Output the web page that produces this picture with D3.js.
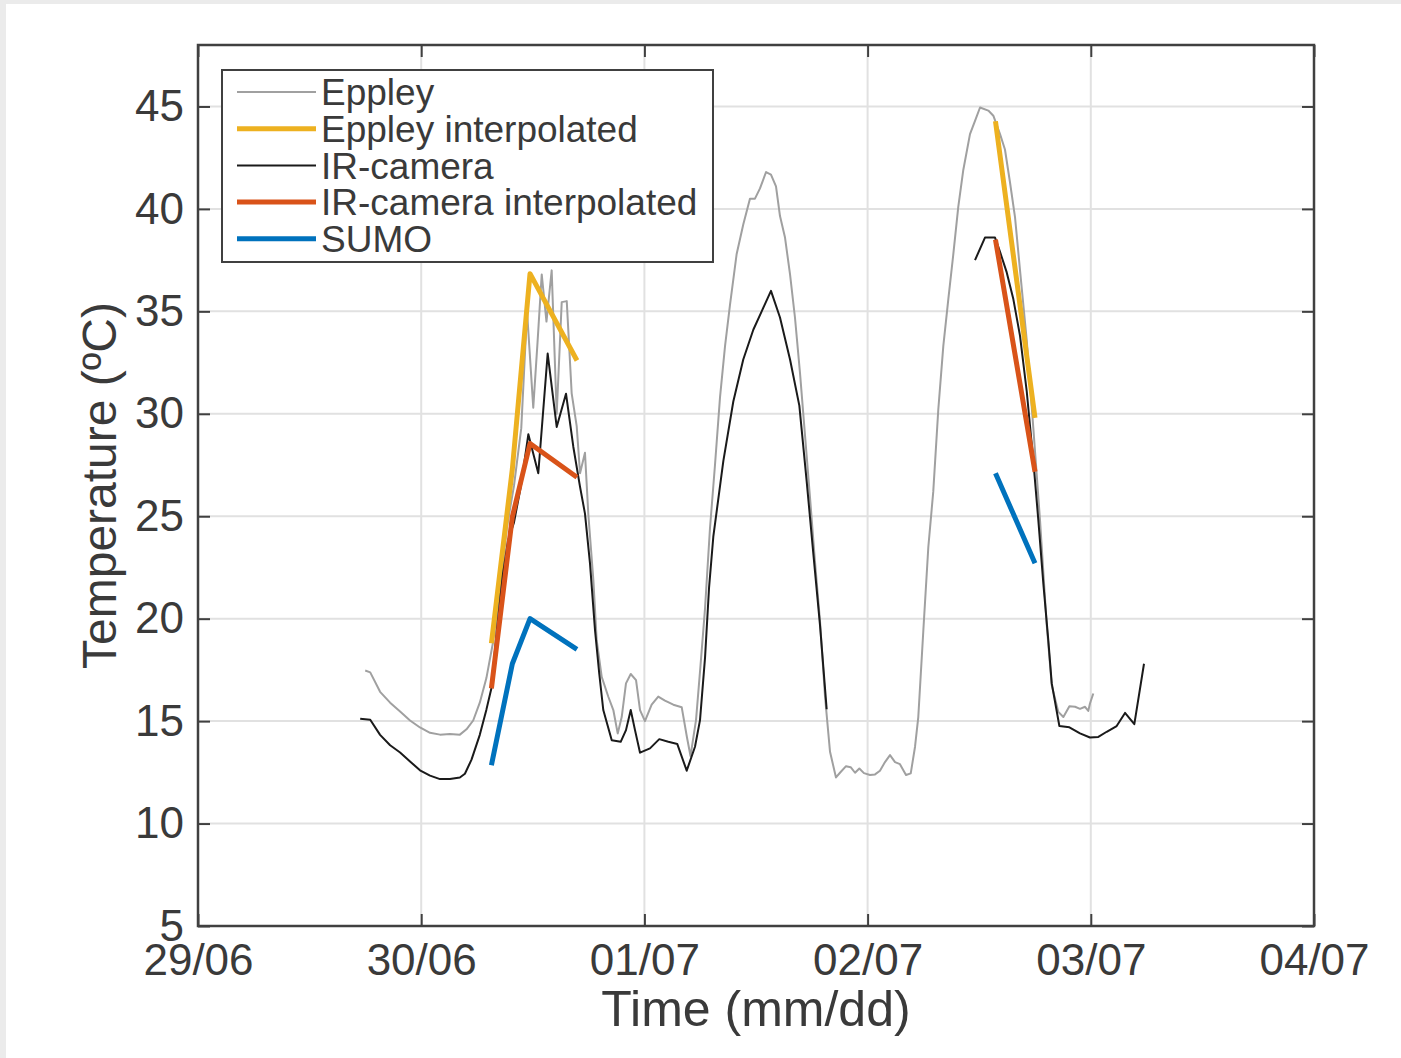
<!DOCTYPE html>
<html>
<head>
<meta charset="utf-8">
<script src="https://cdn.jsdelivr.net/npm/d3@7"></script>
<style>
  html, body { margin: 0; padding: 0; background: #ebebeb; }
  svg { display: block; }
  text { font-family: "Liberation Sans", Arial, sans-serif; fill: #3a3a3a; }
</style>
</head>
<body>
<script>
// hours counted from 29/06 00:00
var eppleyHours = [17.98, 18.52, 19.58, 20.66, 21.73, 22.8, 23.87, 24.95, 26.02, 27.09, 28.16, 28.87, 29.59, 30.3, 31.01, 31.73,
  32.47, 33.23, 33.98, 34.76, 35.38, 36.05, 36.51, 36.96, 37.47, 38.03, 38.57, 39.11, 39.65, 40.18, 40.72, 41.08, 41.61, 41.97,
  42.51, 42.87, 43.41, 44.12, 44.66, 45.13, 45.56, 46.02, 46.53, 47.1, 47.53, 48.06, 48.78, 49.49, 50.21, 51.11, 52.01, 52.58,
  52.96, 53.55, 54.03, 54.52, 55.05, 55.59, 56.13, 56.67, 57.2, 57.92, 58.63, 59.35, 59.89, 60.43, 61.08, 61.61, 62.15, 62.58,
  63.12, 63.66, 64.19, 64.73, 65.27, 65.81, 66.34, 66.88, 67.42, 67.96, 68.6, 69.03, 69.68, 70.18, 70.65, 71.11, 71.61, 72.26,
  72.8, 73.33, 73.87, 74.41, 74.95, 75.48, 76.13, 76.64, 77.1, 77.45, 77.99, 78.53, 79.06, 79.6, 80.14, 80.68, 81.22, 81.75,
  82.29, 83.01, 83.55, 84.09, 84.98, 85.52, 86.24, 86.77, 87.31, 87.85, 88.39, 89.11, 89.82, 90.54, 91.26, 91.8, 92.51, 93.05,
  93.7, 94.31, 94.84, 95.38, 95.73, 95.91, 96.27];
var eppleyTemp = [17.47, 17.38, 16.43, 15.9, 15.47, 15.03, 14.69, 14.43, 14.34, 14.37, 14.34, 14.6, 15.03, 15.9, 17.1, 18.86,
  21.5, 24.5, 26.5, 29.3, 35.0, 30.3, 33.5, 36.8, 34.5, 37.0, 30.0, 35.45, 35.5, 31.0, 29.4, 27.1, 28.1, 25.1,
  21.9, 18.95, 17.16, 16.19, 15.54, 14.4, 15.2, 16.84, 17.3, 17.0, 15.54, 15.0, 15.8, 16.2, 16.0, 15.8, 15.68, 14.2,
  13.3, 15.05, 17.7, 20.5, 24.4, 27.5, 30.8, 33.3, 35.3, 37.8, 39.24, 40.5, 40.5, 41.0, 41.8, 41.67, 41.1, 39.65,
  38.6, 36.8, 34.7, 32.0, 28.95, 25.9, 22.8, 19.9, 16.2, 13.5, 12.25, 12.48, 12.8, 12.75, 12.48, 12.69, 12.46, 12.37,
  12.4, 12.58, 13.0, 13.34, 13.0, 12.9, 12.37, 12.45, 13.75, 15.2, 19.4, 23.5, 26.2, 30.2, 33.3, 35.6, 37.8, 40.1,
  41.9, 43.65, 44.3, 44.95, 44.8, 44.55, 43.65, 42.9, 41.3, 39.6, 37.0, 33.6, 29.3, 24.8, 19.7, 16.75, 15.45, 15.2,
  15.73, 15.7, 15.6, 15.7, 15.5, 15.86, 16.35];

// IR-camera, null marks the data gap
var irHours = [17.44, 18.52, 19.58, 20.66, 21.73, 22.8, 23.87, 24.95, 26.02, 27.09, 28.16, 28.7, 29.41, 30.3, 31.01, 31.55,
  32.15, 32.8, 33.33, 33.98, 34.73, 35.52, 36.59, 37.6, 38.57, 39.57, 40.36, 41.08, 41.61, 42.15, 42.69, 43.15, 43.58,
  44.49, 45.45, 46.02, 46.53, 46.99, 47.53, 48.6, 49.6, 50.57, 51.54, 52.55, 53.44, 53.98, 54.52, 54.95, 55.41, 56.49,
  57.56, 58.63, 59.71, 60.61, 61.61, 62.58, 63.66, 64.66, 65.45, 66.16, 66.88, 67.6, 75.0,
  83.55, 84.62, 85.7, 86.24, 86.96, 87.67, 88.39, 89.11, 89.82, 90.36, 90.9, 91.43, 91.8, 92.62, 93.7, 94.84, 95.91,
  96.81, 97.71, 98.78, 99.68, 100.68, 101.72];
var irTemp = [15.12, 15.07, 14.33, 13.82, 13.47, 13.03, 12.6, 12.34, 12.17, 12.17, 12.25, 12.43, 13.12, 14.33, 15.56, 16.6,
  19.5, 22.2, 23.8, 24.7, 26.5, 29.0, 27.1, 32.94, 29.36, 30.98, 28.38, 26.43, 25.13, 22.7, 19.44, 17.3, 15.54,
  14.07, 13.99, 14.56, 15.54, 14.56, 13.46, 13.67, 14.12, 13.99, 13.88, 12.58, 13.75, 15.05, 18.1, 21.5, 24.0, 27.7,
  30.6, 32.65, 34.1, 35.0, 36.0, 34.7, 32.65, 30.4, 26.7, 23.2, 19.7, 15.58, null,
  37.5, 38.6, 38.6, 37.9, 36.9, 35.6, 33.8, 31.1, 27.7, 24.8, 21.7, 18.95, 16.84, 14.76, 14.7, 14.4, 14.2,
  14.23, 14.48, 14.76, 15.4, 14.85, 17.8];

// interpolated series and SUMO share the flight times
var flightHours = [31.55, 33.8, 35.7, 40.75, null, 85.75, 90.0];
var eppleyInterp = [18.8, 27.3, 36.84, 32.6, null, 44.28, 29.8];
var irInterp = [16.6, 24.97, 28.55, 26.9, null, 38.5, 27.17];
var sumoTemp = [12.85, 17.8, 20.0, 18.5, null, 27.1, 22.7];

var yTicks = [5, 10, 15, 20, 25, 30, 35, 40, 45];
var legendNames = ["Eppley", "Eppley interpolated", "IR-camera", "IR-camera interpolated", "SUMO"];
var colors = ["#a0a0a0", "#edb120", "#1a1a1a", "#d95319", "#0072bd"];
var widths = [2, 5, 2, 5, 5];

var W = 1401, H = 1058;
var plotL = 198, plotR = 1314, plotT = 45, plotB = 926;
var base = new Date(2016, 5, 29);

function toDate(h) { return new Date(base.getTime() + h * 3600e3); }

var svg = d3.select("body").append("svg").attr("width", W).attr("height", H);
svg.append("rect").attr("x", 6).attr("y", 4).attr("width", W - 6).attr("height", H - 4).attr("fill", "#fff");

var x = d3.scaleTime().domain([base, d3.timeDay.offset(base, 5)]).range([plotL, plotR]);
var y = d3.scaleLinear().domain([5, 48]).range([plotB, plotT]);

// grid
var grid = svg.append("g");
grid.selectAll(".gx").data(x.ticks(d3.timeDay.every(1))).enter().append("line")
  .attr("x1", d => x(d)).attr("x2", d => x(d)).attr("y1", plotT).attr("y2", plotB)
  .attr("stroke", "#e1e1e1").attr("stroke-width", 2);
grid.selectAll(".gy").data(yTicks).enter().append("line")
  .attr("x1", plotL).attr("x2", plotR).attr("y1", d => y(d)).attr("y2", d => y(d))
  .attr("stroke", "#e1e1e1").attr("stroke-width", 2);

svg.append("clipPath").attr("id", "clip").append("rect")
  .attr("x", plotL).attr("y", plotT).attr("width", plotR - plotL).attr("height", plotB - plotT);

var line = d3.line()
  .defined(d => d[1] != null)
  .x(d => x(toDate(d[0])))
  .y(d => y(d[1]));

var series = [
  d3.zip(eppleyHours, eppleyTemp),
  d3.zip(flightHours, eppleyInterp),
  d3.zip(irHours, irTemp),
  d3.zip(flightHours, irInterp),
  d3.zip(flightHours, sumoTemp)
];

var plot = svg.append("g").attr("clip-path", "url(#clip)");
series.forEach(function(s, i) {
  plot.append("path")
    .datum(s)
    .attr("d", line)
    .attr("fill", "none")
    .attr("stroke", colors[i])
    .attr("stroke-width", widths[i])
    .attr("stroke-linejoin", "round");
});

// axes, ticks pointing inward
var fmt = d3.timeFormat("%d/%m");
var xAxis = svg.append("g").attr("transform", `translate(0,${plotB})`)
  .call(d3.axisBottom(x).ticks(d3.timeDay.every(1)).tickFormat(fmt).tickSizeInner(-12).tickSizeOuter(0).tickPadding(18));
svg.append("g").attr("transform", `translate(0,${plotT})`)
  .call(d3.axisTop(x).ticks(d3.timeDay.every(1)).tickFormat("").tickSizeInner(-12).tickSizeOuter(0));
var yAxis = svg.append("g").attr("transform", `translate(${plotL},0)`)
  .call(d3.axisLeft(y).tickValues(yTicks).tickSizeInner(-12).tickSizeOuter(0).tickPadding(14));
svg.append("g").attr("transform", `translate(${plotR},0)`)
  .call(d3.axisRight(y).tickValues(yTicks).tickFormat("").tickSizeInner(-12).tickSizeOuter(0));

svg.selectAll(".domain").remove();
svg.selectAll(".tick line").attr("stroke", "#404040").attr("stroke-width", 2);
xAxis.selectAll("text").style("font-size", "44px").attr("fill", "#3a3a3a");
yAxis.selectAll("text").style("font-size", "44px").attr("fill", "#3a3a3a");

svg.append("rect").attr("x", plotL).attr("y", plotT).attr("width", plotR - plotL).attr("height", plotB - plotT)
  .attr("fill", "none").attr("stroke", "#404040").attr("stroke-width", 2.5);

svg.append("text").attr("x", (plotL + plotR) / 2).attr("y", 1026)
  .attr("text-anchor", "middle").style("font-size", "50px").text("Time (mm/dd)");
svg.append("text").attr("transform", `translate(116,${(plotT + plotB) / 2}) rotate(-90)`)
  .attr("text-anchor", "middle").style("font-size", "48px").text("Temperature (ºC)");

// legend
var lg = svg.append("g");
lg.append("rect").attr("x", 222).attr("y", 70).attr("width", 491).attr("height", 192)
  .attr("fill", "#fff").attr("stroke", "#404040").attr("stroke-width", 2);
legendNames.forEach(function(name, i) {
  var ly = 92 + i * 36.7;
  lg.append("line").attr("x1", 237).attr("x2", 316).attr("y1", ly).attr("y2", ly)
    .attr("stroke", colors[i]).attr("stroke-width", widths[i]);
  lg.append("text").attr("x", 321).attr("y", ly).attr("dy", "0.36em")
    .style("font-size", "37px").attr("fill", "#1a1a1a").text(name);
});
</script>
</body>
</html>
